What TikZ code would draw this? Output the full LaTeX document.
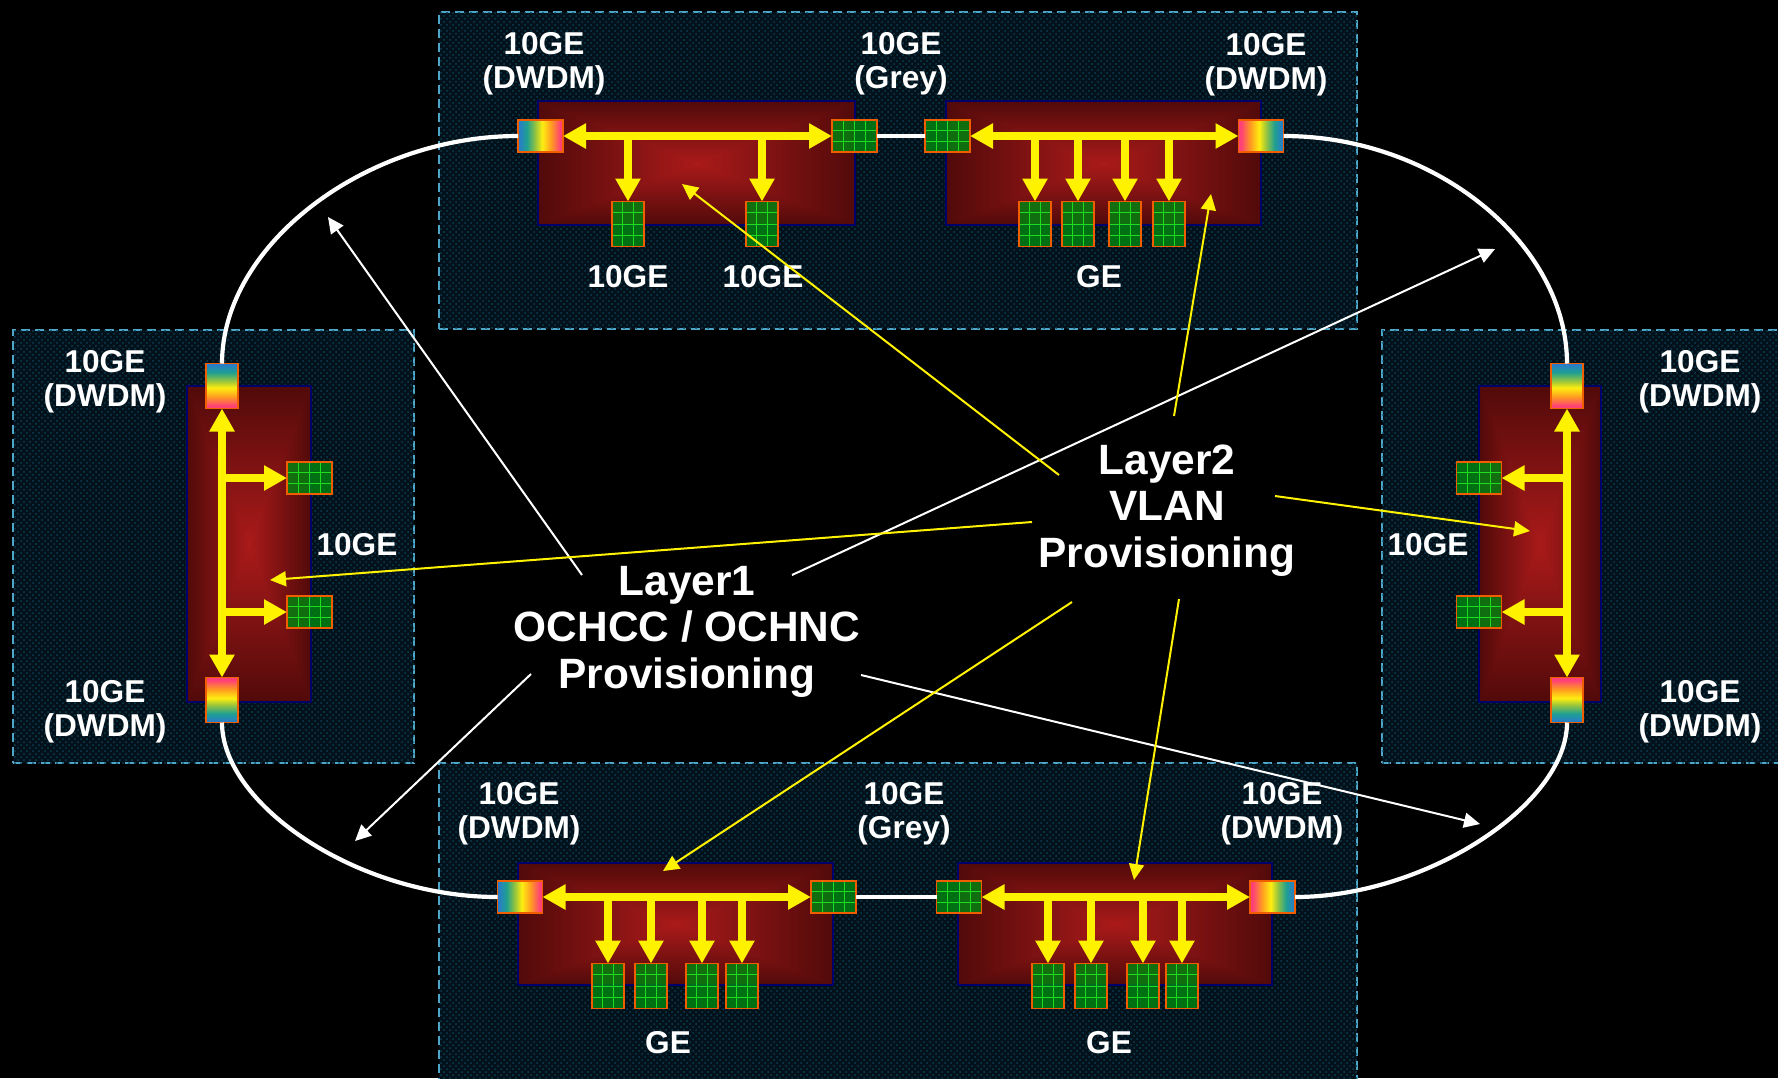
\documentclass[tikz,border=0pt]{standalone}
\usepackage{fontspec}
\setmainfont{Liberation Sans}
\usetikzlibrary{arrows.meta,patterns,calc}
\definecolor{panelbg}{HTML}{03121A}
\definecolor{paneldot}{HTML}{0B4056}
\definecolor{paneledge}{HTML}{4EA6C8}
\definecolor{rededgeline}{HTML}{00006A}
\definecolor{portedge}{HTML}{F05E00}
\definecolor{portgreen}{HTML}{008410}
\definecolor{gridgreen}{HTML}{20DC20}
\definecolor{rbA}{HTML}{2A78D0}
\definecolor{rbB}{HTML}{1FA090}
\definecolor{rbC}{HTML}{A0C838}
\definecolor{rbD}{HTML}{FFEE10}
\definecolor{rbE}{HTML}{FF9A20}
\definecolor{rbF}{HTML}{FF4078}
\pgfdeclarefunctionalshading{rectglow}{\pgfpoint{-50bp}{-50bp}}{\pgfpoint{50bp}{50bp}}{}{
  abs exch abs 2 copy gt {pop} {exch pop} ifelse 25 div
  dup dup 0.346 mul 0.667 exch sub 3 1 roll
  0.063 mul 0.102 exch sub exch
  0.063 mul 0.102 exch sub
}
\pgfdeclarehorizontalshading{rainbowramp}{100bp}{
  color(0bp)=(rbA); color(25bp)=(rbA); color(35bp)=(rbB); color(45bp)=(rbC);
  color(52bp)=(rbD); color(62bp)=(rbE); color(72bp)=(rbF); color(75bp)=(rbF); color(100bp)=(rbF)}
\tikzset{
  panelbox/.style={draw=paneledge,line width=0.8pt,dash pattern=on 4.6pt off 2.4pt,
    fill=panelbg,postaction={pattern=crosshatch dots,pattern color=paneldot},
    inner sep=0pt,outer sep=0pt,minimum width=#1},
  redbox/.style={draw=rededgeline,line width=0.8pt,shading=rectglow,inner sep=0pt,outer sep=0pt},
  rainbowport/.style={draw=portedge,line width=0.9pt,shading=rainbowramp,shading angle=#1,
    inner sep=0pt,outer sep=0pt},
  porth/.style={rainbowport=#1,minimum width=22.5pt,minimum height=16pt},
  portv/.style={rainbowport=#1,minimum width=16pt,minimum height=22.5pt},
  greenh/.style={draw=portedge,line width=0.9pt,fill=portgreen,fill opacity=0.82,inner sep=0pt,outer sep=0pt,
    minimum width=22.5pt,minimum height=16pt,path picture={
      \foreach \f in {0.25,0.5,0.75}
        \draw[gridgreen,line width=0.35pt] ($(path picture bounding box.south west)!\f!(path picture bounding box.south east)$) -- ($(path picture bounding box.north west)!\f!(path picture bounding box.north east)$);
      \foreach \f in {0.33,0.67}
        \draw[gridgreen,line width=0.35pt] ($(path picture bounding box.south west)!\f!(path picture bounding box.north west)$) -- ($(path picture bounding box.south east)!\f!(path picture bounding box.north east)$);
    }},
  greenv/.style={draw=portedge,line width=0.9pt,fill=portgreen,fill opacity=0.82,inner sep=0pt,outer sep=0pt,
    minimum width=16pt,minimum height=22.5pt,path picture={
      \foreach \f in {0.33,0.67}
        \draw[gridgreen,line width=0.35pt] ($(path picture bounding box.south west)!\f!(path picture bounding box.south east)$) -- ($(path picture bounding box.north west)!\f!(path picture bounding box.north east)$);
      \foreach \f in {0.25,0.5,0.75}
        \draw[gridgreen,line width=0.35pt] ($(path picture bounding box.south west)!\f!(path picture bounding box.north west)$) -- ($(path picture bounding box.south east)!\f!(path picture bounding box.north east)$);
    }},
  bus/.style={draw=yellow,line width=3.8pt,{Triangle[length=11.5pt,width=12pt]}-{Triangle[length=11.5pt,width=12pt]}},
  branch/.style={draw=yellow,line width=3.8pt,-{Triangle[length=11.5pt,width=12pt]}},
  ring/.style={draw=white,line width=2.1pt},
  whitearrow/.style={draw=white,line width=1pt,-{Triangle[length=8pt,width=7.5pt]}},
  yellowarrow/.style={draw=yellow,line width=1pt,-{Triangle[length=8pt,width=7.5pt]}},
  smalllabel/.style={text=white,font=\fontsize{15.8}{17}\selectfont\bfseries,align=center,inner sep=0pt},
  biglabel/.style={text=white,font=\fontsize{21.2}{23.2}\selectfont\bfseries,align=center,inner sep=0pt},
}
\newcommand{\panelnode}[5]{\node[panelbox=#4*0.5pt,minimum height=#5*0.5pt] (#1) at (#2,#3) {};}
\newcommand{\rednode}[5]{\node[redbox,minimum width=#4*0.5pt,minimum height=#5*0.5pt] (#1) at (#2,#3) {};}
\begin{document}
\begin{tikzpicture}[x=0.5pt,y=-0.5pt]
\useasboundingbox (0,0) rectangle (1778,1078);
\clip (0,0) rectangle (1778,1078);
\fill[black] (0,0) rectangle (1778,1078);
% panels
\panelnode{pT}{898}{170.5}{918}{317}
\panelnode{pL}{213.5}{546.5}{401}{433}
\panelnode{pR}{1586}{546.5}{408}{433}
\panelnode{pB}{898}{926.5}{918}{327}
% red cards
\rednode{cTL}{696.5}{163}{317}{124}
\rednode{cTR}{1103.5}{163}{315}{124}
\rednode{cL}{249}{544}{124}{316}
\rednode{cR}{1540}{544}{122}{316}
\rednode{cBL}{675.5}{924}{315}{122}
\rednode{cBR}{1115}{924}{314}{122}
% line ports
\node[porth=0]  (tl1) at (540.5,136) {};
\node[greenh]   (tl2) at (854.5,136) {};
\node[greenh]   (tr1) at (947.5,136) {};
\node[porth=180] (tr2) at (1261,136) {};
\node[portv=270] (lt) at (222,386) {};
\node[portv=90] (lb) at (222,700) {};
\node[portv=270] (rt) at (1567,386) {};
\node[portv=90] (rb) at (1567,700) {};
\node[porth=0]  (bl1) at (520,897) {};
\node[greenh]   (bl2) at (833.5,897) {};
\node[greenh]   (br1) at (959,897) {};
\node[porth=180] (br2) at (1272.5,897) {};
% ring
\draw[ring] (tl1.west) .. controls (365,136) and (222,245) .. (lt.north);
\draw[ring] (tr2.east) .. controls (1437,136) and (1567,245) .. (rt.north);
\draw[ring] (lb.south) .. controls (222,805) and (358,897) .. (bl1.west);
\draw[ring] (rb.south) .. controls (1567,805) and (1425,897) .. (br2.east);
\draw[ring] (tl2.east) -- (tr1.west);
\draw[ring] (bl2.east) -- (br1.west);
% client ports
\node[greenv] (a1) at (628,224) {};
\node[greenv] (a2) at (762,224) {};
\node[greenv] (b1) at (1035,224) {};
\node[greenv] (b2) at (1078,224) {};
\node[greenv] (b3) at (1125,224) {};
\node[greenv] (b4) at (1169,224) {};
\node[greenh] (c1) at (309.5,478) {};
\node[greenh] (c2) at (309.5,612) {};
\node[greenh] (d1) at (1479,478) {};
\node[greenh] (d2) at (1479,612) {};
\node[greenv] (e1) at (608,986) {};
\node[greenv] (e2) at (651,986) {};
\node[greenv] (e3) at (702,986) {};
\node[greenv] (e4) at (742,986) {};
\node[greenv] (f1) at (1048,986) {};
\node[greenv] (f2) at (1091,986) {};
\node[greenv] (f3) at (1143,986) {};
\node[greenv] (f4) at (1182,986) {};
% buses
\draw[bus] (tl1.east) -- (tl2.west);
\draw[bus] (tr1.east) -- (tr2.west);
\draw[bus] (lt.south) -- (lb.north);
\draw[bus] (rt.south) -- (rb.north);
\draw[bus] (bl1.east) -- (bl2.west);
\draw[bus] (br1.east) -- (br2.west);
% branches
\foreach \n in {a1,a2,b1,b2,b3,b4}
  \draw[branch] (\n.north |- tl1.center) -- (\n.north);
\foreach \n in {e1,e2,e3,e4,f1,f2,f3,f4}
  \draw[branch] (\n.north |- bl1.center) -- (\n.north);
\foreach \n in {c1,c2}
  \draw[branch] (lt.center |- \n.west) -- (\n.west);
\foreach \n in {d1,d2}
  \draw[branch] (rt.center |- \n.east) -- (\n.east);
% labels
\node[smalllabel] (t1) at (544,63.5) {10GE\\(DWDM)};
\node[smalllabel] (t2) at (901,63.5) {10GE\\(Grey)};
\node[smalllabel] (t3) at (1266,64.5) {10GE\\(DWDM)};
\node[smalllabel] (t4) at (628,277) {10GE};
\node[smalllabel] (t5) at (763,277) {10GE};
\node[smalllabel] (t6) at (1099,277) {GE};
\node[smalllabel] (l1) at (105,382) {10GE\\(DWDM)};
\node[smalllabel] (l2) at (105,711.5) {10GE\\(DWDM)};
\node[smalllabel] (l3) at (357,545) {10GE};
\node[smalllabel] (r1) at (1700,382) {10GE\\(DWDM)};
\node[smalllabel] (r2) at (1700,711.5) {10GE\\(DWDM)};
\node[smalllabel] (r3) at (1428,545) {10GE};
\node[smalllabel] (u1) at (519,814) {10GE\\(DWDM)};
\node[smalllabel] (u2) at (904,814) {10GE\\(Grey)};
\node[smalllabel] (u3) at (1282,814) {10GE\\(DWDM)};
\node[smalllabel] (u4) at (668,1043) {GE};
\node[smalllabel] (u5) at (1109,1043) {GE};
\node[biglabel] (layerone) at (687,631.5) {Layer1\\OCHCC / OCHNC\\Provisioning};
\node[biglabel] (layertwo) at (1167,510.5) {Layer2\\VLAN\\Provisioning};
% callout ends
\coordinate (wa) at (582,575); \coordinate (wA) at (328,217);
\coordinate (wb) at (792,575); \coordinate (wB) at (1495,249);
\coordinate (wc) at (531,674); \coordinate (wC) at (355,841);
\coordinate (wd) at (861,675); \coordinate (wD) at (1480,824);
\coordinate (ya) at (1059,475); \coordinate (yA) at (682,184);
\coordinate (yb) at (1174,416); \coordinate (yB) at (1211,194);
\coordinate (yc) at (1032,522); \coordinate (yC) at (270,580);
\coordinate (yd) at (1275,496); \coordinate (yD) at (1530,531);
\coordinate (ye) at (1072,602); \coordinate (yE) at (663,871);
\coordinate (yf) at (1179,599); \coordinate (yF) at (1134,880);
\draw[whitearrow] (wa) -- (wA);
\draw[whitearrow] (wb) -- (wB);
\draw[whitearrow] (wc) -- (wC);
\draw[whitearrow] (wd) -- (wD);
\draw[yellowarrow] (ya) -- (yA);
\draw[yellowarrow] (yb) -- (yB);
\draw[yellowarrow] (yc) -- (yC);
\draw[yellowarrow] (yd) -- (yD);
\draw[yellowarrow] (ye) -- (yE);
\draw[yellowarrow] (yf) -- (yF);
\end{tikzpicture}
\end{document}
